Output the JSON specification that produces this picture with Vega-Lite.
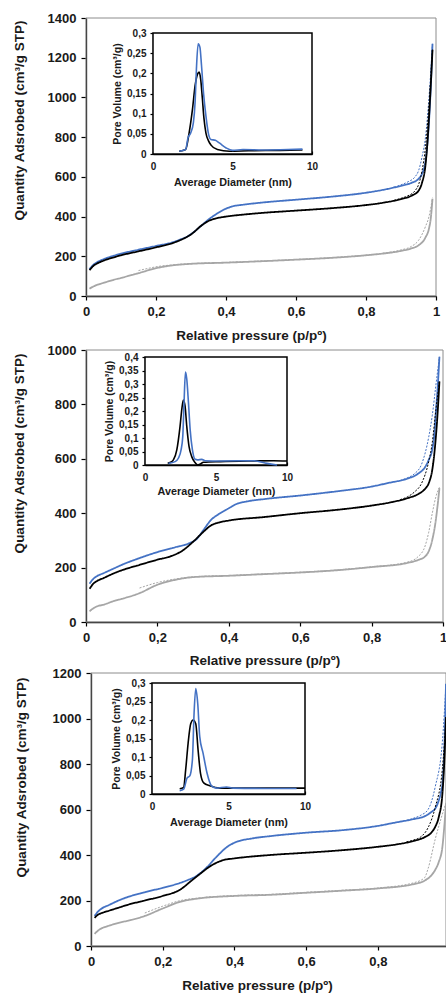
{
"$schema": "https://vega.github.io/schema/vega-lite/v6.json",
"width": 446, "height": 993, "autosize": {"type": "none"}, "padding": 0,
"background": "white",
"config": {
  "view": {"stroke": null},
  "axis": {"grid": false, "labelFont": "Liberation Sans", "titleFont": "Liberation Sans", "labelFontWeight": "bold", "titleFontWeight": "bold", "labelFontSize": 13, "titleFontSize": 13.5, "labelColor": "#1a1a1a", "titleColor": "#1a1a1a", "domainColor": "#000000", "tickColor": "#000000", "domainWidth": 1.3, "tickWidth": 1.2, "labelFlush": false, "labelOverlap": false, "zindex": 1}
},
"datasets": {
"iso1": [
{"s":"blue","b":"ads","x":0.01,"y":135},{"s":"blue","b":"ads","x":0.02,"y":155},{"s":"blue","b":"ads","x":0.03,"y":168},{"s":"blue","b":"ads","x":0.05,"y":185},{"s":"blue","b":"ads","x":0.08,"y":203},{"s":"blue","b":"ads","x":0.1,"y":213},{"s":"blue","b":"ads","x":0.15,"y":233},{"s":"blue","b":"ads","x":0.2,"y":252},{"s":"blue","b":"ads","x":0.25,"y":272},{"s":"blue","b":"ads","x":0.27,"y":285},{"s":"blue","b":"ads","x":0.29,"y":300},{"s":"blue","b":"ads","x":0.31,"y":325},{"s":"blue","b":"ads","x":0.33,"y":355},{"s":"blue","b":"ads","x":0.35,"y":385},{"s":"blue","b":"ads","x":0.37,"y":410},{"s":"blue","b":"ads","x":0.4,"y":440},{"s":"blue","b":"ads","x":0.42,"y":452},{"s":"blue","b":"ads","x":0.45,"y":460},{"s":"blue","b":"ads","x":0.5,"y":470},{"s":"blue","b":"ads","x":0.6,"y":485},{"s":"blue","b":"ads","x":0.7,"y":500},{"s":"blue","b":"ads","x":0.8,"y":520},{"s":"blue","b":"ads","x":0.85,"y":535},{"s":"blue","b":"ads","x":0.9,"y":555},{"s":"blue","b":"ads","x":0.93,"y":570},{"s":"blue","b":"ads","x":0.95,"y":590},{"s":"blue","b":"ads","x":0.96,"y":615},{"s":"blue","b":"ads","x":0.97,"y":680},{"s":"blue","b":"ads","x":0.975,"y":760},{"s":"blue","b":"ads","x":0.98,"y":880},{"s":"blue","b":"ads","x":0.985,"y":1050},{"s":"blue","b":"ads","x":0.99,"y":1270},
{"s":"blue","b":"des","x":0.88,"y":548},{"s":"blue","b":"des","x":0.9,"y":560},{"s":"blue","b":"des","x":0.92,"y":575},{"s":"blue","b":"des","x":0.94,"y":600},{"s":"blue","b":"des","x":0.95,"y":630},{"s":"blue","b":"des","x":0.96,"y":700},{"s":"blue","b":"des","x":0.97,"y":800},{"s":"blue","b":"des","x":0.98,"y":1000},{"s":"blue","b":"des","x":0.99,"y":1270},
{"s":"black","b":"ads","x":0.01,"y":130},{"s":"black","b":"ads","x":0.02,"y":150},{"s":"black","b":"ads","x":0.03,"y":162},{"s":"black","b":"ads","x":0.05,"y":178},{"s":"black","b":"ads","x":0.08,"y":195},{"s":"black","b":"ads","x":0.1,"y":205},{"s":"black","b":"ads","x":0.15,"y":225},{"s":"black","b":"ads","x":0.2,"y":245},{"s":"black","b":"ads","x":0.25,"y":268},{"s":"black","b":"ads","x":0.27,"y":282},{"s":"black","b":"ads","x":0.3,"y":310},{"s":"black","b":"ads","x":0.33,"y":355},{"s":"black","b":"ads","x":0.35,"y":378},{"s":"black","b":"ads","x":0.37,"y":390},{"s":"black","b":"ads","x":0.4,"y":400},{"s":"black","b":"ads","x":0.45,"y":410},{"s":"black","b":"ads","x":0.5,"y":418},{"s":"black","b":"ads","x":0.6,"y":430},{"s":"black","b":"ads","x":0.7,"y":442},{"s":"black","b":"ads","x":0.8,"y":458},{"s":"black","b":"ads","x":0.85,"y":470},{"s":"black","b":"ads","x":0.9,"y":488},{"s":"black","b":"ads","x":0.93,"y":505},{"s":"black","b":"ads","x":0.95,"y":530},{"s":"black","b":"ads","x":0.96,"y":570},{"s":"black","b":"ads","x":0.97,"y":660},{"s":"black","b":"ads","x":0.975,"y":760},{"s":"black","b":"ads","x":0.98,"y":900},{"s":"black","b":"ads","x":0.985,"y":1060},{"s":"black","b":"ads","x":0.99,"y":1240},
{"s":"black","b":"des","x":0.88,"y":482},{"s":"black","b":"des","x":0.9,"y":492},{"s":"black","b":"des","x":0.92,"y":505},{"s":"black","b":"des","x":0.94,"y":530},{"s":"black","b":"des","x":0.95,"y":560},{"s":"black","b":"des","x":0.96,"y":630},{"s":"black","b":"des","x":0.97,"y":750},{"s":"black","b":"des","x":0.98,"y":960},{"s":"black","b":"des","x":0.99,"y":1240},
{"s":"gray","b":"ads","x":0.01,"y":37},{"s":"gray","b":"ads","x":0.02,"y":47},{"s":"gray","b":"ads","x":0.03,"y":55},{"s":"gray","b":"ads","x":0.05,"y":66},{"s":"gray","b":"ads","x":0.08,"y":82},{"s":"gray","b":"ads","x":0.1,"y":91},{"s":"gray","b":"ads","x":0.15,"y":115},{"s":"gray","b":"ads","x":0.2,"y":140},{"s":"gray","b":"ads","x":0.25,"y":155},{"s":"gray","b":"ads","x":0.3,"y":162},{"s":"gray","b":"ads","x":0.4,"y":168},{"s":"gray","b":"ads","x":0.5,"y":175},{"s":"gray","b":"ads","x":0.6,"y":183},{"s":"gray","b":"ads","x":0.7,"y":192},{"s":"gray","b":"ads","x":0.8,"y":205},{"s":"gray","b":"ads","x":0.85,"y":214},{"s":"gray","b":"ads","x":0.9,"y":227},{"s":"gray","b":"ads","x":0.93,"y":240},{"s":"gray","b":"ads","x":0.95,"y":255},{"s":"gray","b":"ads","x":0.97,"y":295},{"s":"gray","b":"ads","x":0.98,"y":340},{"s":"gray","b":"ads","x":0.985,"y":390},{"s":"gray","b":"ads","x":0.99,"y":490},
{"s":"gray","b":"des","x":0.15,"y":128},{"s":"gray","b":"des","x":0.18,"y":140},{"s":"gray","b":"des","x":0.2,"y":147},{"s":"gray","b":"des","x":0.25,"y":157},{"s":"gray","b":"des","x":0.3,"y":163},{"s":"gray","b":"des","x":0.4,"y":169},{"s":"gray","b":"des","x":0.5,"y":176},{"s":"gray","b":"des","x":0.6,"y":184},{"s":"gray","b":"des","x":0.7,"y":193},{"s":"gray","b":"des","x":0.8,"y":206},{"s":"gray","b":"des","x":0.85,"y":216},{"s":"gray","b":"des","x":0.9,"y":232},{"s":"gray","b":"des","x":0.93,"y":250},{"s":"gray","b":"des","x":0.95,"y":280},{"s":"gray","b":"des","x":0.97,"y":350},{"s":"gray","b":"des","x":0.98,"y":400},{"s":"gray","b":"des","x":0.99,"y":495}
],
"psd1": [
{"s":"black","x":1.65,"y":0.007},{"s":"black","x":2.05,"y":0.011},{"s":"black","x":2.27,"y":0.052},{"s":"black","x":2.48,"y":0.11},{"s":"black","x":2.65,"y":0.17},{"s":"black","x":2.8,"y":0.198},{"s":"black","x":2.9,"y":0.203},{"s":"black","x":3.0,"y":0.185},{"s":"black","x":3.1,"y":0.14},{"s":"black","x":3.2,"y":0.09},{"s":"black","x":3.33,"y":0.052},{"s":"black","x":3.5,"y":0.032},{"s":"black","x":3.65,"y":0.022},{"s":"black","x":4.05,"y":0.011},{"s":"black","x":4.8,"y":0.007},{"s":"black","x":6,"y":0.008},{"s":"black","x":8,"y":0.009},{"s":"black","x":9.4,"y":0.01},
{"s":"blue","x":1.65,"y":0.007},{"s":"blue","x":2.05,"y":0.011},{"s":"blue","x":2.2,"y":0.04},{"s":"blue","x":2.37,"y":0.052},{"s":"blue","x":2.54,"y":0.078},{"s":"blue","x":2.65,"y":0.13},{"s":"blue","x":2.73,"y":0.21},{"s":"blue","x":2.84,"y":0.273},{"s":"blue","x":2.95,"y":0.265},{"s":"blue","x":3.05,"y":0.22},{"s":"blue","x":3.18,"y":0.15},{"s":"blue","x":3.33,"y":0.094},{"s":"blue","x":3.5,"y":0.048},{"s":"blue","x":3.64,"y":0.036},{"s":"blue","x":3.92,"y":0.034},{"s":"blue","x":4.17,"y":0.0275},{"s":"blue","x":4.6,"y":0.015},{"s":"blue","x":5.0,"y":0.009},{"s":"blue","x":5.66,"y":0.011},{"s":"blue","x":6.9,"y":0.01},{"s":"blue","x":8.5,"y":0.011},{"s":"blue","x":9.4,"y":0.012}
],
"iso2": [
{"s":"blue","b":"ads","x":0.01,"y":141},{"s":"blue","b":"ads","x":0.02,"y":158},{"s":"blue","b":"ads","x":0.03,"y":168},{"s":"blue","b":"ads","x":0.05,"y":180},{"s":"blue","b":"ads","x":0.08,"y":198},{"s":"blue","b":"ads","x":0.1,"y":210},{"s":"blue","b":"ads","x":0.15,"y":235},{"s":"blue","b":"ads","x":0.2,"y":257},{"s":"blue","b":"ads","x":0.25,"y":275},{"s":"blue","b":"ads","x":0.29,"y":290},{"s":"blue","b":"ads","x":0.31,"y":305},{"s":"blue","b":"ads","x":0.33,"y":340},{"s":"blue","b":"ads","x":0.35,"y":375},{"s":"blue","b":"ads","x":0.37,"y":395},{"s":"blue","b":"ads","x":0.4,"y":418},{"s":"blue","b":"ads","x":0.42,"y":433},{"s":"blue","b":"ads","x":0.45,"y":443},{"s":"blue","b":"ads","x":0.5,"y":452},{"s":"blue","b":"ads","x":0.6,"y":465},{"s":"blue","b":"ads","x":0.7,"y":480},{"s":"blue","b":"ads","x":0.8,"y":498},{"s":"blue","b":"ads","x":0.85,"y":512},{"s":"blue","b":"ads","x":0.9,"y":527},{"s":"blue","b":"ads","x":0.93,"y":545},{"s":"blue","b":"ads","x":0.95,"y":570},{"s":"blue","b":"ads","x":0.96,"y":596},{"s":"blue","b":"ads","x":0.97,"y":635},{"s":"blue","b":"ads","x":0.975,"y":680},{"s":"blue","b":"ads","x":0.98,"y":770},{"s":"blue","b":"ads","x":0.985,"y":860},{"s":"blue","b":"ads","x":0.99,"y":975},
{"s":"blue","b":"des","x":0.88,"y":520},{"s":"blue","b":"des","x":0.9,"y":530},{"s":"blue","b":"des","x":0.92,"y":545},{"s":"blue","b":"des","x":0.94,"y":580},{"s":"blue","b":"des","x":0.96,"y":680},{"s":"blue","b":"des","x":0.97,"y":760},{"s":"blue","b":"des","x":0.98,"y":870},{"s":"blue","b":"des","x":0.99,"y":975},
{"s":"black","b":"ads","x":0.01,"y":122},{"s":"black","b":"ads","x":0.02,"y":140},{"s":"black","b":"ads","x":0.03,"y":150},{"s":"black","b":"ads","x":0.05,"y":162},{"s":"black","b":"ads","x":0.08,"y":180},{"s":"black","b":"ads","x":0.1,"y":190},{"s":"black","b":"ads","x":0.15,"y":210},{"s":"black","b":"ads","x":0.2,"y":229},{"s":"black","b":"ads","x":0.24,"y":243},{"s":"black","b":"ads","x":0.27,"y":262},{"s":"black","b":"ads","x":0.3,"y":295},{"s":"black","b":"ads","x":0.33,"y":333},{"s":"black","b":"ads","x":0.35,"y":355},{"s":"black","b":"ads","x":0.37,"y":365},{"s":"black","b":"ads","x":0.4,"y":373},{"s":"black","b":"ads","x":0.5,"y":386},{"s":"black","b":"ads","x":0.6,"y":400},{"s":"black","b":"ads","x":0.7,"y":412},{"s":"black","b":"ads","x":0.8,"y":428},{"s":"black","b":"ads","x":0.85,"y":439},{"s":"black","b":"ads","x":0.9,"y":455},{"s":"black","b":"ads","x":0.93,"y":470},{"s":"black","b":"ads","x":0.95,"y":490},{"s":"black","b":"ads","x":0.96,"y":510},{"s":"black","b":"ads","x":0.97,"y":560},{"s":"black","b":"ads","x":0.975,"y":610},{"s":"black","b":"ads","x":0.98,"y":680},{"s":"black","b":"ads","x":0.985,"y":770},{"s":"black","b":"ads","x":0.99,"y":884},
{"s":"black","b":"des","x":0.88,"y":450},{"s":"black","b":"des","x":0.9,"y":460},{"s":"black","b":"des","x":0.92,"y":478},{"s":"black","b":"des","x":0.94,"y":510},{"s":"black","b":"des","x":0.96,"y":590},{"s":"black","b":"des","x":0.97,"y":660},{"s":"black","b":"des","x":0.98,"y":780},{"s":"black","b":"des","x":0.99,"y":884},
{"s":"gray","b":"ads","x":0.01,"y":39},{"s":"gray","b":"ads","x":0.02,"y":50},{"s":"gray","b":"ads","x":0.03,"y":57},{"s":"gray","b":"ads","x":0.05,"y":64},{"s":"gray","b":"ads","x":0.08,"y":78},{"s":"gray","b":"ads","x":0.1,"y":85},{"s":"gray","b":"ads","x":0.15,"y":106},{"s":"gray","b":"ads","x":0.2,"y":137},{"s":"gray","b":"ads","x":0.25,"y":155},{"s":"gray","b":"ads","x":0.3,"y":165},{"s":"gray","b":"ads","x":0.4,"y":170},{"s":"gray","b":"ads","x":0.5,"y":176},{"s":"gray","b":"ads","x":0.6,"y":182},{"s":"gray","b":"ads","x":0.7,"y":190},{"s":"gray","b":"ads","x":0.8,"y":202},{"s":"gray","b":"ads","x":0.9,"y":217},{"s":"gray","b":"ads","x":0.93,"y":228},{"s":"gray","b":"ads","x":0.95,"y":241},{"s":"gray","b":"ads","x":0.96,"y":260},{"s":"gray","b":"ads","x":0.97,"y":302},{"s":"gray","b":"ads","x":0.98,"y":376},{"s":"gray","b":"ads","x":0.985,"y":430},{"s":"gray","b":"ads","x":0.99,"y":492},
{"s":"gray","b":"des","x":0.15,"y":125},{"s":"gray","b":"des","x":0.2,"y":145},{"s":"gray","b":"des","x":0.25,"y":158},{"s":"gray","b":"des","x":0.3,"y":166},{"s":"gray","b":"des","x":0.4,"y":171},{"s":"gray","b":"des","x":0.5,"y":177},{"s":"gray","b":"des","x":0.6,"y":183},{"s":"gray","b":"des","x":0.7,"y":191},{"s":"gray","b":"des","x":0.8,"y":203},{"s":"gray","b":"des","x":0.9,"y":220},{"s":"gray","b":"des","x":0.93,"y":240},{"s":"gray","b":"des","x":0.95,"y":280},{"s":"gray","b":"des","x":0.96,"y":330},{"s":"gray","b":"des","x":0.97,"y":400},{"s":"gray","b":"des","x":0.98,"y":460},{"s":"gray","b":"des","x":0.99,"y":495}
],
"psd2": [
{"s":"black","x":1.6,"y":0.006},{"s":"black","x":1.76,"y":0.009},{"s":"black","x":2.0,"y":0.019},{"s":"black","x":2.24,"y":0.056},{"s":"black","x":2.47,"y":0.144},{"s":"black","x":2.6,"y":0.21},{"s":"black","x":2.7,"y":0.241},{"s":"black","x":2.82,"y":0.219},{"s":"black","x":2.94,"y":0.144},{"s":"black","x":3.1,"y":0.069},{"s":"black","x":3.29,"y":0.031},{"s":"black","x":3.53,"y":0.009},{"s":"black","x":3.72,"y":0.0},{"s":"black","x":3.9,"y":0.004},{"s":"black","x":4.12,"y":0.01},{"s":"black","x":5.3,"y":0.0125},{"s":"black","x":7.6,"y":0.015},{"s":"black","x":9.06,"y":0.016},{"s":"black","x":10,"y":0.015},
{"s":"blue","x":1.65,"y":0.006},{"s":"blue","x":2.12,"y":0.0125},{"s":"blue","x":2.35,"y":0.025},{"s":"blue","x":2.54,"y":0.056},{"s":"blue","x":2.66,"y":0.106},{"s":"blue","x":2.75,"y":0.231},{"s":"blue","x":2.85,"y":0.344},{"s":"blue","x":2.94,"y":0.319},{"s":"blue","x":3.06,"y":0.231},{"s":"blue","x":3.18,"y":0.131},{"s":"blue","x":3.34,"y":0.056},{"s":"blue","x":3.53,"y":0.021},{"s":"blue","x":3.7,"y":0.019},{"s":"blue","x":4.0,"y":0.021},{"s":"blue","x":4.24,"y":0.016},{"s":"blue","x":5.3,"y":0.015},{"s":"blue","x":7.65,"y":0.016},{"s":"blue","x":8.6,"y":0.006},{"s":"blue","x":9.3,"y":0.0}
],
"iso3": [
{"s":"blue","b":"ads","x":0.01,"y":132},{"s":"blue","b":"ads","x":0.02,"y":152},{"s":"blue","b":"ads","x":0.03,"y":165},{"s":"blue","b":"ads","x":0.05,"y":180},{"s":"blue","b":"ads","x":0.08,"y":202},{"s":"blue","b":"ads","x":0.1,"y":214},{"s":"blue","b":"ads","x":0.15,"y":236},{"s":"blue","b":"ads","x":0.2,"y":256},{"s":"blue","b":"ads","x":0.25,"y":278},{"s":"blue","b":"ads","x":0.27,"y":290},{"s":"blue","b":"ads","x":0.29,"y":304},{"s":"blue","b":"ads","x":0.32,"y":341},{"s":"blue","b":"ads","x":0.35,"y":392},{"s":"blue","b":"ads","x":0.38,"y":436},{"s":"blue","b":"ads","x":0.4,"y":454},{"s":"blue","b":"ads","x":0.45,"y":473},{"s":"blue","b":"ads","x":0.5,"y":483},{"s":"blue","b":"ads","x":0.6,"y":498},{"s":"blue","b":"ads","x":0.7,"y":509},{"s":"blue","b":"ads","x":0.8,"y":528},{"s":"blue","b":"ads","x":0.85,"y":543},{"s":"blue","b":"ads","x":0.9,"y":558},{"s":"blue","b":"ads","x":0.93,"y":570},{"s":"blue","b":"ads","x":0.95,"y":590},{"s":"blue","b":"ads","x":0.96,"y":604},{"s":"blue","b":"ads","x":0.97,"y":641},{"s":"blue","b":"ads","x":0.975,"y":670},{"s":"blue","b":"ads","x":0.98,"y":714},{"s":"blue","b":"ads","x":0.985,"y":850},{"s":"blue","b":"ads","x":0.99,"y":1153},
{"s":"blue","b":"des","x":0.88,"y":552},{"s":"blue","b":"des","x":0.9,"y":562},{"s":"blue","b":"des","x":0.92,"y":575},{"s":"blue","b":"des","x":0.94,"y":600},{"s":"blue","b":"des","x":0.96,"y":700},{"s":"blue","b":"des","x":0.98,"y":900},{"s":"blue","b":"des","x":0.99,"y":1150},
{"s":"black","b":"ads","x":0.01,"y":124},{"s":"black","b":"ads","x":0.02,"y":138},{"s":"black","b":"ads","x":0.03,"y":145},{"s":"black","b":"ads","x":0.05,"y":155},{"s":"black","b":"ads","x":0.08,"y":170},{"s":"black","b":"ads","x":0.1,"y":180},{"s":"black","b":"ads","x":0.15,"y":200},{"s":"black","b":"ads","x":0.2,"y":220},{"s":"black","b":"ads","x":0.25,"y":249},{"s":"black","b":"ads","x":0.28,"y":287},{"s":"black","b":"ads","x":0.3,"y":312},{"s":"black","b":"ads","x":0.33,"y":348},{"s":"black","b":"ads","x":0.35,"y":366},{"s":"black","b":"ads","x":0.37,"y":378},{"s":"black","b":"ads","x":0.4,"y":385},{"s":"black","b":"ads","x":0.5,"y":400},{"s":"black","b":"ads","x":0.6,"y":410},{"s":"black","b":"ads","x":0.7,"y":421},{"s":"black","b":"ads","x":0.8,"y":436},{"s":"black","b":"ads","x":0.85,"y":446},{"s":"black","b":"ads","x":0.9,"y":462},{"s":"black","b":"ads","x":0.93,"y":478},{"s":"black","b":"ads","x":0.95,"y":500},{"s":"black","b":"ads","x":0.96,"y":524},{"s":"black","b":"ads","x":0.97,"y":568},{"s":"black","b":"ads","x":0.98,"y":670},{"s":"black","b":"ads","x":0.985,"y":800},{"s":"black","b":"ads","x":0.99,"y":1007},
{"s":"black","b":"des","x":0.88,"y":458},{"s":"black","b":"des","x":0.9,"y":466},{"s":"black","b":"des","x":0.92,"y":480},{"s":"black","b":"des","x":0.94,"y":520},{"s":"black","b":"des","x":0.96,"y":610},{"s":"black","b":"des","x":0.98,"y":780},{"s":"black","b":"des","x":0.99,"y":1000},
{"s":"gray","b":"ads","x":0.01,"y":53},{"s":"gray","b":"ads","x":0.02,"y":68},{"s":"gray","b":"ads","x":0.03,"y":78},{"s":"gray","b":"ads","x":0.05,"y":89},{"s":"gray","b":"ads","x":0.08,"y":103},{"s":"gray","b":"ads","x":0.1,"y":110},{"s":"gray","b":"ads","x":0.15,"y":132},{"s":"gray","b":"ads","x":0.2,"y":165},{"s":"gray","b":"ads","x":0.25,"y":195},{"s":"gray","b":"ads","x":0.3,"y":209},{"s":"gray","b":"ads","x":0.4,"y":220},{"s":"gray","b":"ads","x":0.5,"y":225},{"s":"gray","b":"ads","x":0.6,"y":234},{"s":"gray","b":"ads","x":0.7,"y":243},{"s":"gray","b":"ads","x":0.8,"y":253},{"s":"gray","b":"ads","x":0.9,"y":272},{"s":"gray","b":"ads","x":0.93,"y":287},{"s":"gray","b":"ads","x":0.95,"y":312},{"s":"gray","b":"ads","x":0.96,"y":335},{"s":"gray","b":"ads","x":0.97,"y":370},{"s":"gray","b":"ads","x":0.98,"y":436},{"s":"gray","b":"ads","x":0.985,"y":520},{"s":"gray","b":"ads","x":0.99,"y":626},
{"s":"gray","b":"des","x":0.15,"y":145},{"s":"gray","b":"des","x":0.2,"y":175},{"s":"gray","b":"des","x":0.25,"y":200},{"s":"gray","b":"des","x":0.3,"y":211},{"s":"gray","b":"des","x":0.4,"y":222},{"s":"gray","b":"des","x":0.5,"y":227},{"s":"gray","b":"des","x":0.6,"y":236},{"s":"gray","b":"des","x":0.7,"y":245},{"s":"gray","b":"des","x":0.8,"y":255},{"s":"gray","b":"des","x":0.9,"y":278},{"s":"gray","b":"des","x":0.93,"y":300},{"s":"gray","b":"des","x":0.94,"y":340},{"s":"gray","b":"des","x":0.96,"y":470},{"s":"gray","b":"des","x":0.98,"y":580},{"s":"gray","b":"des","x":0.99,"y":630}
],
"psd3": [
{"s":"black","x":1.81,"y":0.014},{"s":"black","x":2.07,"y":0.018},{"s":"black","x":2.2,"y":0.065},{"s":"black","x":2.36,"y":0.137},{"s":"black","x":2.53,"y":0.19},{"s":"black","x":2.69,"y":0.2},{"s":"black","x":2.86,"y":0.19},{"s":"black","x":3.01,"y":0.12},{"s":"black","x":3.17,"y":0.056},{"s":"black","x":3.38,"y":0.03},{"s":"black","x":3.78,"y":0.022},{"s":"black","x":4.43,"y":0.016},{"s":"black","x":5.3,"y":0.016},{"s":"black","x":7.5,"y":0.016},{"s":"black","x":10,"y":0.016},
{"s":"blue","x":1.81,"y":0.009},{"s":"blue","x":2.07,"y":0.013},{"s":"blue","x":2.29,"y":0.043},{"s":"blue","x":2.47,"y":0.049},{"s":"blue","x":2.64,"y":0.092},{"s":"blue","x":2.75,"y":0.218},{"s":"blue","x":2.86,"y":0.285},{"s":"blue","x":2.99,"y":0.244},{"s":"blue","x":3.12,"y":0.155},{"s":"blue","x":3.34,"y":0.11},{"s":"blue","x":3.6,"y":0.056},{"s":"blue","x":3.89,"y":0.022},{"s":"blue","x":4.21,"y":0.016},{"s":"blue","x":4.87,"y":0.019},{"s":"blue","x":5.3,"y":0.016},{"s":"blue","x":7.5,"y":0.015},{"s":"blue","x":9.45,"y":0.015}
]
},
"layer": [
{
 "layer": [
  {"data": {"values": [{}]}, "mark": {"type": "rect", "filled": false, "color": "#8c8c8c", "strokeWidth": 1},
   "encoding": {"x": {"datum": 0, "type": "quantitative"}, "x2": {"datum": 1}, "y": {"datum": 0, "type": "quantitative"}, "y2": {"datum": 1400}}},
  {"data": {"name": "iso1"}, "mark": {"type": "line", "interpolate": "monotone"},
   "encoding": {
    "x": {"field": "x", "type": "quantitative", "scale": {"domain": [0, 1], "range": [86, 436], "nice": false, "zero": false},
          "axis": {"orient": "bottom", "offset": -697, "values": [0, 0.2, 0.4, 0.6, 0.8, 1], "labelExpr": "replace(format(datum.value, '.1~f'), '.', ',')", "title": "Relative pressure (p/pº)", "titleX": 251, "titlePadding": 10, "tickSize": 4, "labelPadding": 5}},
    "y": {"field": "y", "type": "quantitative", "scale": {"domain": [0, 1400], "range": [296, 18], "nice": false},
          "axis": {"orient": "left", "offset": -86, "values": [0, 200, 400, 600, 800, 1000, 1200, 1400], "format": "d", "title": "Quantity Adsrobed (cm³/g STP)", "titleX": -60, "titleY": 120, "tickSize": 5, "labelPadding": 5}},
    "color": {"field": "s", "type": "nominal", "scale": {"domain": ["blue", "black", "gray"], "range": ["#4472C4", "#000000", "#A6A6A6"]}, "legend": null},
    "strokeDash": {"field": "b", "type": "nominal", "scale": {"domain": ["ads", "des"], "range": [[1, 0], [2, 1.5]]}, "legend": null},
    "strokeWidth": {"field": "b", "type": "ordinal", "scale": {"domain": ["ads", "des"], "range": [1.8, 1]}, "legend": null}
   }}
 ]
},
{
 "layer": [
  {"data": {"values": [{}]}, "mark": {"type": "rect", "fill": "white", "stroke": "#000000", "strokeWidth": 1.5},
   "encoding": {"x": {"datum": 0, "type": "quantitative"}, "x2": {"datum": 10}, "y": {"datum": 0, "type": "quantitative"}, "y2": {"datum": 0.3}}},
  {"data": {"name": "psd1"}, "mark": {"type": "line", "interpolate": "monotone", "strokeWidth": 1.6},
   "encoding": {
    "x": {"field": "x", "type": "quantitative", "scale": {"domain": [0, 10], "range": [153, 312], "nice": false, "zero": false},
          "axis": {"orient": "bottom", "offset": -839, "values": [0,1,2,3,4,5,6,7,8,9,10], "labelExpr": "datum.value % 5 === 0 ? datum.label : ''", "title": "Average Diameter (nm)", "tickSize": -3, "labelPadding": 10, "titlePadding": 5, "labelFontSize": 10, "titleFontSize": 10.8}},
    "y": {"field": "y", "type": "quantitative", "scale": {"domain": [0, 0.3], "range": [154, 33], "nice": false},
          "axis": {"orient": "left", "offset": -153, "values": [0, 0.05, 0.1, 0.15, 0.2, 0.25, 0.3], "labelExpr": "replace(format(datum.value, '.2~f'), '.', ',')", "title": "Pore Volume (cm³/g)", "tickSize": 3, "labelPadding": 4, "titlePadding": 4, "labelFontSize": 10, "titleFontSize": 10.5}},
    "color": {"field": "s", "type": "nominal", "scale": {"domain": ["blue", "black", "gray"], "range": ["#4472C4", "#000000", "#A6A6A6"]}, "legend": null}
   }}
 ]
},
{
 "layer": [
  {"data": {"values": [{}]}, "mark": {"type": "rect", "filled": false, "color": "#8c8c8c", "strokeWidth": 1},
   "encoding": {"x": {"datum": 0, "type": "quantitative"}, "x2": {"datum": 1}, "y": {"datum": 0, "type": "quantitative"}, "y2": {"datum": 1000}}},
  {"data": {"name": "iso2"}, "mark": {"type": "line", "interpolate": "monotone"},
   "encoding": {
    "x": {"field": "x", "type": "quantitative", "scale": {"domain": [0, 1], "range": [86, 443], "nice": false, "zero": false},
          "axis": {"orient": "bottom", "offset": -371, "values": [0, 0.2, 0.4, 0.6, 0.8, 1], "labelExpr": "replace(format(datum.value, '.1~f'), '.', ',')", "title": "Relative pressure (p/pº)", "titlePadding": 9, "tickSize": 4, "labelPadding": 5}},
    "y": {"field": "y", "type": "quantitative", "scale": {"domain": [0, 1000], "range": [622, 350], "nice": false},
          "axis": {"orient": "left", "offset": -86, "values": [0, 200, 400, 600, 800, 1000], "format": "d", "title": "Quantity Adsrobed (cm³/g STP)", "titleX": -60, "titleY": 453, "tickSize": 5, "labelPadding": 5}},
    "color": {"field": "s", "type": "nominal", "scale": {"domain": ["blue", "black", "gray"], "range": ["#4472C4", "#000000", "#A6A6A6"]}, "legend": null},
    "strokeDash": {"field": "b", "type": "nominal", "scale": {"domain": ["ads", "des"], "range": [[1, 0], [2, 1.5]]}, "legend": null},
    "strokeWidth": {"field": "b", "type": "ordinal", "scale": {"domain": ["ads", "des"], "range": [1.8, 1]}, "legend": null}
   }}
 ]
},
{
 "layer": [
  {"data": {"values": [{}]}, "mark": {"type": "rect", "fill": "white", "stroke": "#000000", "strokeWidth": 1.5},
   "encoding": {"x": {"datum": 0, "type": "quantitative"}, "x2": {"datum": 10}, "y": {"datum": 0, "type": "quantitative"}, "y2": {"datum": 0.4}}},
  {"data": {"name": "psd2"}, "mark": {"type": "line", "interpolate": "monotone", "strokeWidth": 1.6},
   "encoding": {
    "x": {"field": "x", "type": "quantitative", "scale": {"domain": [0, 10], "range": [145, 287], "nice": false, "zero": false},
          "axis": {"orient": "bottom", "offset": -528, "values": [0,1,2,3,4,5,6,7,8,9,10], "labelExpr": "datum.value % 5 === 0 ? datum.label : ''", "title": "Average Diameter (nm)", "tickSize": -3, "labelPadding": 10, "titlePadding": 3, "labelFontSize": 10, "titleFontSize": 10.8}},
    "y": {"field": "y", "type": "quantitative", "scale": {"domain": [0, 0.4], "range": [465, 357], "nice": false},
          "axis": {"orient": "left", "offset": -145, "values": [0, 0.05, 0.1, 0.15, 0.2, 0.25, 0.3, 0.35, 0.4], "labelExpr": "replace(format(datum.value, '.2~f'), '.', ',')", "title": "Pore Volume (cm³/g)", "tickSize": 3, "labelPadding": 4, "titlePadding": 4, "labelFontSize": 10, "titleFontSize": 10.5}},
    "color": {"field": "s", "type": "nominal", "scale": {"domain": ["blue", "black", "gray"], "range": ["#4472C4", "#000000", "#A6A6A6"]}, "legend": null}
   }}
 ]
},
{
 "layer": [
  {"data": {"values": [{}]}, "mark": {"type": "rect", "filled": false, "color": "#8c8c8c", "strokeWidth": 1},
   "encoding": {"x": {"datum": 0, "type": "quantitative"}, "x2": {"datum": 0.99}, "y": {"datum": 0, "type": "quantitative"}, "y2": {"datum": 1200}}},
  {"data": {"name": "iso3"}, "mark": {"type": "line", "interpolate": "monotone"},
   "encoding": {
    "x": {"field": "x", "type": "quantitative", "scale": {"domain": [0, 0.99], "range": [91, 446], "nice": false, "zero": false},
          "axis": {"orient": "bottom", "offset": -47, "values": [0, 0.2, 0.4, 0.6, 0.8], "labelExpr": "replace(format(datum.value, '.1~f'), '.', ',')", "title": "Relative pressure (p/pº)", "titleX": 257, "titlePadding": 10, "tickSize": 4, "labelPadding": 5}},
    "y": {"field": "y", "type": "quantitative", "scale": {"domain": [0, 1200], "range": [946, 673], "nice": false},
          "axis": {"orient": "left", "offset": -91, "values": [0, 200, 400, 600, 800, 1000, 1200], "format": "d", "title": "Quantity Adsrobed (cm³/g STP)", "titleX": -63, "titleY": 777, "tickSize": 5, "labelPadding": 5}},
    "color": {"field": "s", "type": "nominal", "scale": {"domain": ["blue", "black", "gray"], "range": ["#4472C4", "#000000", "#A6A6A6"]}, "legend": null},
    "strokeDash": {"field": "b", "type": "nominal", "scale": {"domain": ["ads", "des"], "range": [[1, 0], [2, 1.5]]}, "legend": null},
    "strokeWidth": {"field": "b", "type": "ordinal", "scale": {"domain": ["ads", "des"], "range": [1.8, 1]}, "legend": null}
   }}
 ]
},
{
 "layer": [
  {"data": {"values": [{}]}, "mark": {"type": "rect", "fill": "white", "stroke": "#000000", "strokeWidth": 1.5},
   "encoding": {"x": {"datum": 0, "type": "quantitative"}, "x2": {"datum": 10}, "y": {"datum": 0, "type": "quantitative"}, "y2": {"datum": 0.3}}},
  {"data": {"name": "psd3"}, "mark": {"type": "line", "interpolate": "monotone", "strokeWidth": 1.6},
   "encoding": {
    "x": {"field": "x", "type": "quantitative", "scale": {"domain": [0, 10], "range": [152, 305], "nice": false, "zero": false},
          "axis": {"orient": "bottom", "offset": -199, "values": [0,1,2,3,4,5,6,7,8,9,10], "labelExpr": "datum.value % 5 === 0 ? datum.label : ''", "title": "Average Diameter (nm)", "tickSize": -3, "labelPadding": 10, "titlePadding": 5, "labelFontSize": 10, "titleFontSize": 10.8}},
    "y": {"field": "y", "type": "quantitative", "scale": {"domain": [0, 0.3], "range": [794, 683], "nice": false},
          "axis": {"orient": "left", "offset": -152, "values": [0, 0.05, 0.1, 0.15, 0.2, 0.25, 0.3], "labelExpr": "replace(format(datum.value, '.2~f'), '.', ',')", "title": "Pore Volume (cm³/g)", "tickSize": 3, "labelPadding": 4, "titlePadding": 4, "labelFontSize": 10, "titleFontSize": 10.5}},
    "color": {"field": "s", "type": "nominal", "scale": {"domain": ["blue", "black", "gray"], "range": ["#4472C4", "#000000", "#A6A6A6"]}, "legend": null}
   }}
 ]
}
],
"resolve": {"scale": {"x": "independent", "y": "independent"}}
}
